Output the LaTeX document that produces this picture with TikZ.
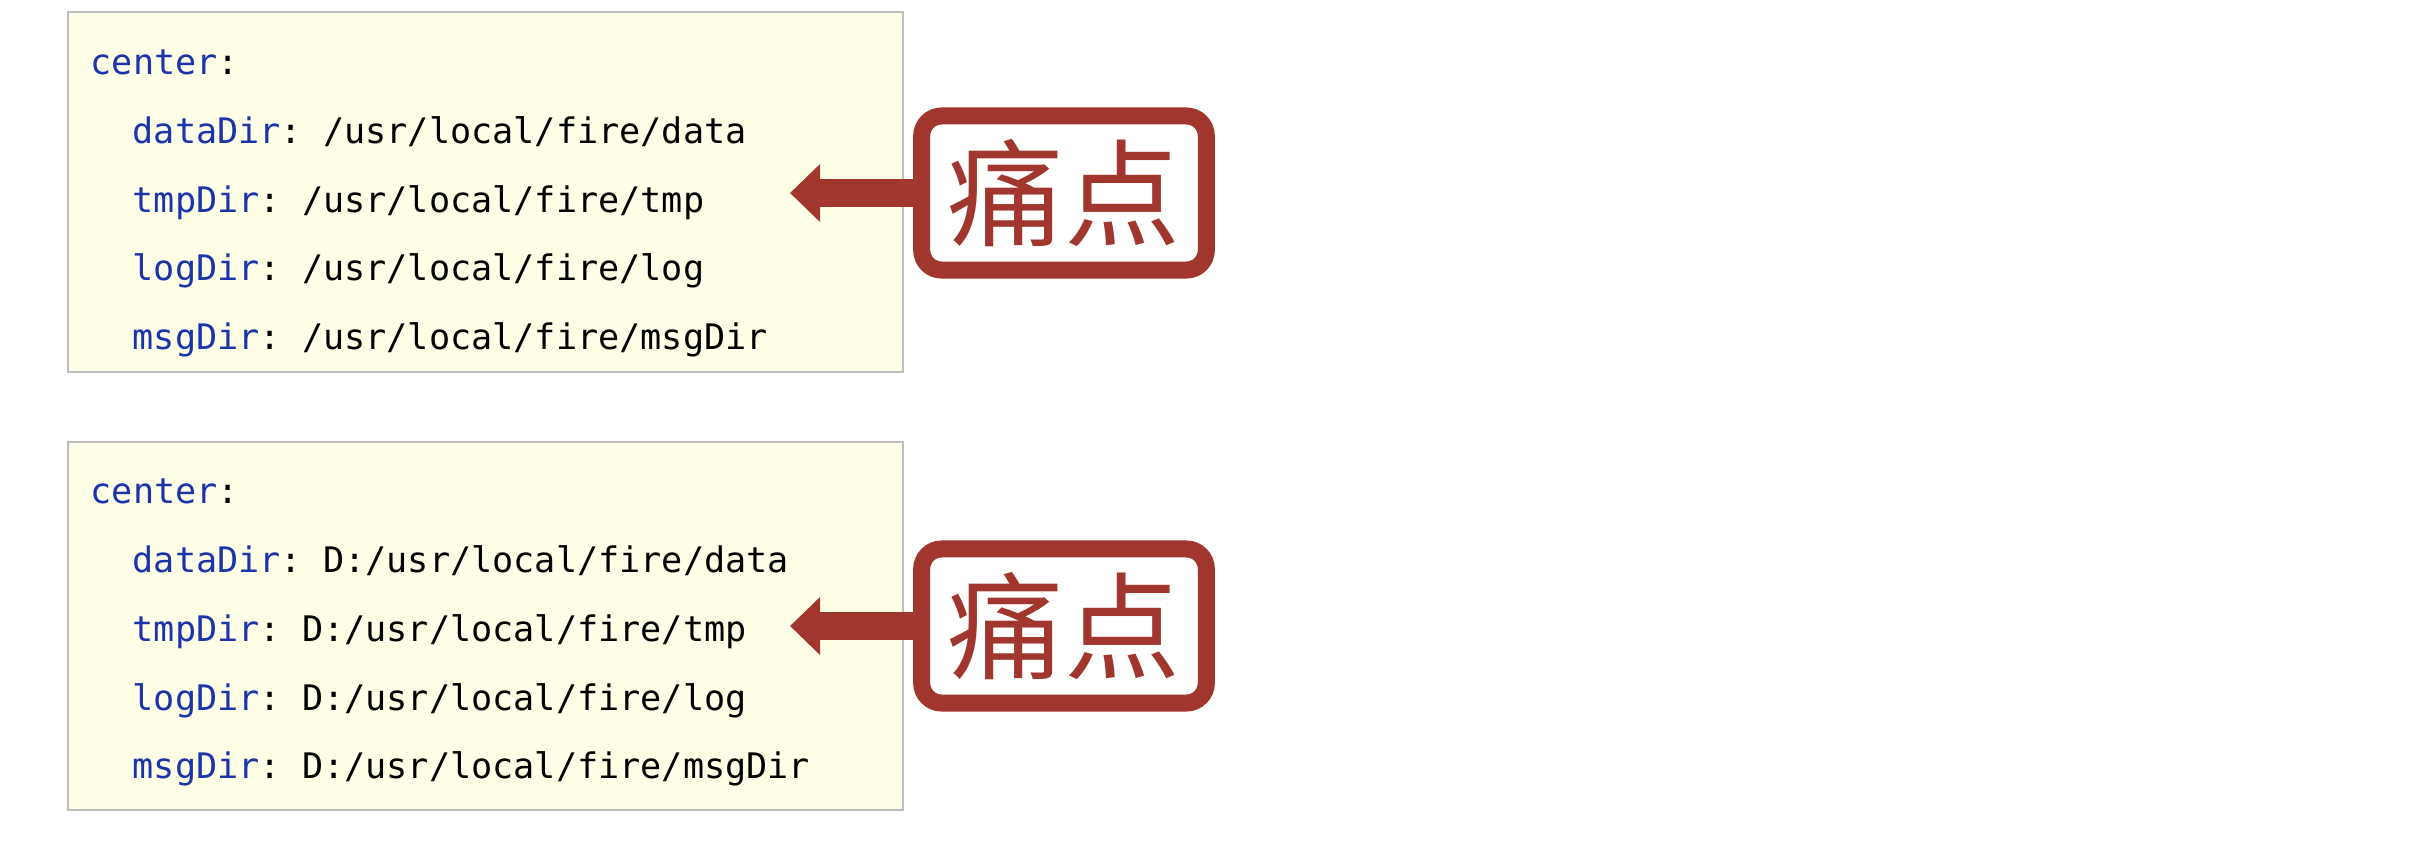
\documentclass[tikz,border=0pt]{standalone}
\usepackage{fontspec}
\setmonofont{DejaVu Sans Mono}
\newfontfamily\cjk{Noto Sans CJK SC}
\usetikzlibrary{arrows.meta}
\definecolor{keyblue}{RGB}{28,52,170}
\definecolor{painred}{RGB}{160,54,46}
\definecolor{codebg}{RGB}{255,255,232}
\definecolor{codeframe}{RGB}{190,190,190}
\begin{document}
\begin{tikzpicture}
[
    x=0.01cm, y=-0.01cm,
    codebox/.style={draw=codeframe, fill=codebg, line width=0.6pt, minimum width=8.35cm, inner sep=0pt},
    codeline/.style={anchor=base west, inner sep=0pt, font=\ttfamily\fontsize{10}{12}\selectfont},
    painbox/.style={draw=painred, line width=0.17cm, rounded corners=0.2cm, minimum width=2.845cm, minimum height=1.54cm, inner sep=0pt, text=painred, font=\cjk\fontsize{33}{33}\selectfont},
    painarrow/.style={draw=painred, line width=0.28cm, -{Triangle[length=0.3cm, width=0.56cm]}},
]
\useasboundingbox (0,0) rectangle (2424,848);

% first block
\node[codebox, minimum height=3.6cm] (code1) at (485.5,192) {};
\node[codeline] (c1) at (90,74) {\textcolor{keyblue}{center}:};
\node[codeline] (d1) at (132,143) {\textcolor{keyblue}{dataDir}: /usr/local/fire/data};
\node[codeline] (t1) at (132,212) {\textcolor{keyblue}{tmpDir}: /usr/local/fire/tmp};
\node[codeline] (l1) at (132,280) {\textcolor{keyblue}{logDir}: /usr/local/fire/log};
\node[codeline] (m1) at (132,349) {\textcolor{keyblue}{msgDir}: /usr/local/fire/msgDir};
\node[painbox] (pain1) at (1064,193) {痛点};
\coordinate (tip1) at (790,193);
\draw[painarrow] (pain1.west) -- (tip1);

% second block
\node[codebox, minimum height=3.67cm] (code2) at (485.5,626) {};
\node[codeline] (c2) at (90,503) {\textcolor{keyblue}{center}:};
\node[codeline] (d2) at (132,572) {\textcolor{keyblue}{dataDir}: D:/usr/local/fire/data};
\node[codeline] (t2) at (132,641) {\textcolor{keyblue}{tmpDir}: D:/usr/local/fire/tmp};
\node[codeline] (l2) at (132,710) {\textcolor{keyblue}{logDir}: D:/usr/local/fire/log};
\node[codeline] (m2) at (132,778) {\textcolor{keyblue}{msgDir}: D:/usr/local/fire/msgDir};
\node[painbox] (pain2) at (1064,626) {痛点};
\coordinate (tip2) at (790,626);
\draw[painarrow] (pain2.west) -- (tip2);
\end{tikzpicture}
\end{document}
